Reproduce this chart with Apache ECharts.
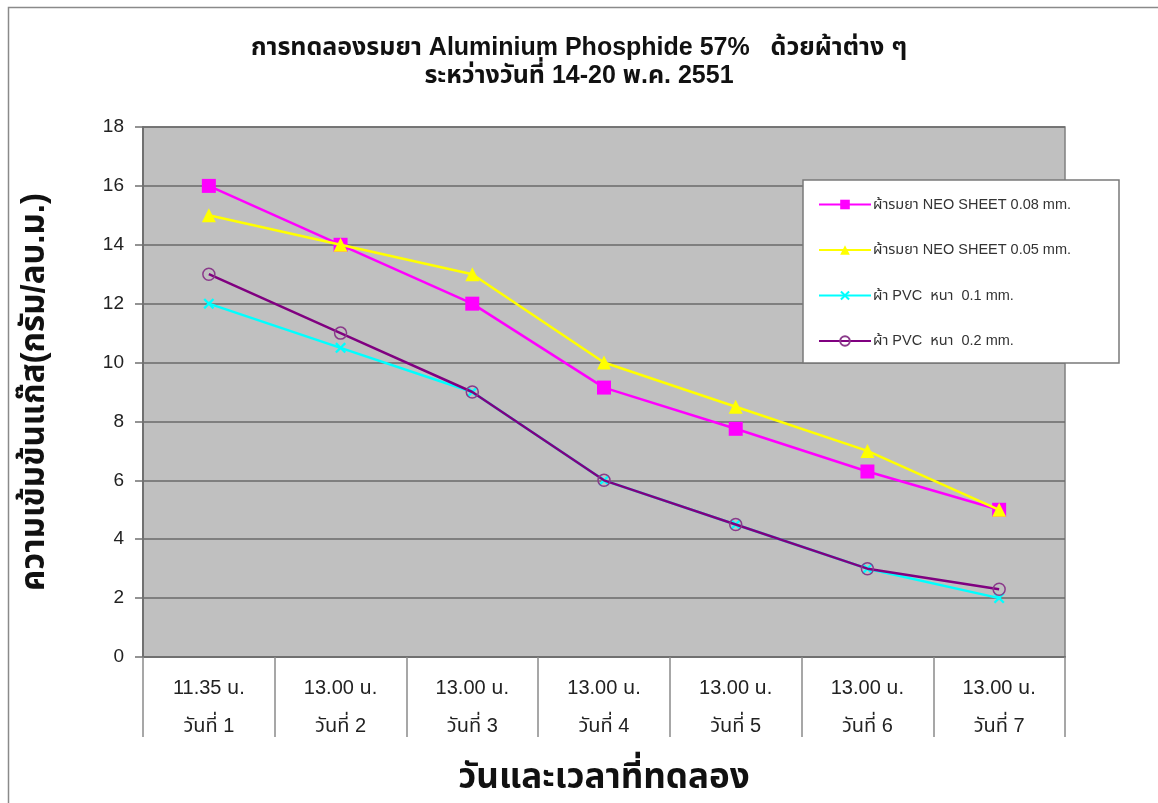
<!DOCTYPE html>
<html>
<head>
<meta charset="utf-8">
<script src="https://cdn.jsdelivr.net/npm/echarts@6/dist/echarts.min.js"></script>
<style>
html,body{margin:0;padding:0;background:#fff;}
#main{width:1158px;height:803px;}
</style>
</head>
<body>
<div id="main"></div>
<script>
var titleLines = ['การทดลองรมยา Aluminium Phosphide 57%   ด้วยผ้าต่าง ๆ', 'ระหว่างวันที่ 14-20 พ.ค. 2551'];
var timeLabels = ['11.35 น.', '13.00 น.', '13.00 น.', '13.00 น.', '13.00 น.', '13.00 น.', '13.00 น.'];
var dayLabels = ['วันที่ 1', 'วันที่ 2', 'วันที่ 3', 'วันที่ 4', 'วันที่ 5', 'วันที่ 6', 'วันที่ 7'];
var seriesNames = ['ผ้ารมยา NEO SHEET 0.08 mm.', 'ผ้ารมยา NEO SHEET 0.05 mm.', 'ผ้า PVC  หนา  0.1 mm.', 'ผ้า PVC  หนา  0.2 mm.'];
var neo008 = [16, 14, 12, 9.15, 7.75, 6.3, 5];
var neo005 = [15, 14, 13, 10, 8.5, 7, 5];
var pvc01 = [12, 10.5, 9, 6, 4.5, 3, 2];
var pvc02 = [13, 11, 9, 6, 4.5, 3, 2.3];
var yTicks = {min: 0, max: 18, interval: 2};
var yAxisName = 'ความเข้มข้นแก๊ส(กรัม/ลบ.ม.)';
var xAxisName = 'วันและเวลาที่ทดลอง';

var categories = timeLabels.map(function (t, i) { return t + '\n' + dayLabels[i]; });
var FONT = '"Liberation Sans", Arial, "Noto Sans", "Noto Sans Thai", sans-serif';
var xSymbol = 'path://M0,1.5L1.5,0L5,3.5L8.5,0L10,1.5L6.5,5L10,8.5L8.5,10L5,6.5L1.5,10L0,8.5L3.5,5Z';

var chart = echarts.init(document.getElementById('main'), null, {renderer: 'canvas'});
var option = {
  backgroundColor: '#ffffff',
  animation: false,
  textStyle: {fontFamily: FONT},
  graphic: [{
    type: 'rect', z: -10,
    shape: {x: 8.5, y: 7.5, width: 1300, height: 1000},
    style: {fill: '#ffffff', stroke: '#8a8a8a', lineWidth: 1.5}
  }, {
    type: 'rect', z: 90,
    shape: {x: 803, y: 180, width: 316, height: 183},
    style: {fill: '#ffffff', stroke: '#7a7a7a', lineWidth: 1.5}
  }],
  title: {
    text: titleLines.join('\n'),
    left: 'center',
    top: 29,
    textStyle: {fontFamily: FONT, fontSize: 25, fontWeight: 'bold', color: '#111', lineHeight: 28}
  },
  grid: {
    left: 143, right: 93, top: 127, bottom: 146,
    outerBoundsMode: 'none',
    show: true, backgroundColor: '#c0c0c0', borderColor: '#808080', borderWidth: 1.5,
    containLabel: false
  },
  legend: {
    orient: 'vertical',
    left: 806, top: 183,
    padding: [14, 10, 14, 12],
    z: 100,
    itemWidth: 52,
    itemHeight: 12,
    itemGap: 30.5,
    textStyle: {fontFamily: FONT, fontSize: 14.5, color: '#333', padding: [0, 0, 0, -3]},
    data: seriesNames
  },
  xAxis: {
    type: 'category',
    data: categories,
    boundaryGap: true,
    name: xAxisName,
    nameLocation: 'middle',
    nameGap: 104,
    nameTextStyle: {fontFamily: FONT, fontSize: 35, fontWeight: 'bold', color: '#111'},
    axisLine: {lineStyle: {color: '#707070', width: 2}},
    axisTick: {show: true, length: 80, alignWithLabel: false, lineStyle: {color: '#8a8a8a', width: 1.5}},
    axisLabel: {fontFamily: FONT, fontSize: 20, color: '#222', lineHeight: 38, margin: 12, interval: 0},
    splitLine: {show: false}
  },
  yAxis: {
    type: 'value',
    min: yTicks.min, max: yTicks.max, interval: yTicks.interval,
    name: yAxisName,
    nameLocation: 'middle',
    nameGap: 92,
    nameRotate: 90,
    nameTextStyle: {fontFamily: FONT, fontSize: 33, fontWeight: 'bold', color: '#111'},
    axisLine: {show: true, lineStyle: {color: '#707070', width: 2}},
    axisTick: {show: true, length: 8, lineStyle: {color: '#707070', width: 1.5}},
    axisLabel: {fontFamily: FONT, fontSize: 19, color: '#222', margin: 19},
    splitLine: {show: true, lineStyle: {color: '#6a6a6a', width: 1.5}}
  },
  series: [
    {
      name: seriesNames[0], type: 'line', data: neo008,
      symbol: 'rect', symbolSize: 14,
      lineStyle: {color: '#ff00ff', width: 2.5},
      itemStyle: {color: '#ff00ff'}, z: 2
    },
    {
      name: seriesNames[1], type: 'line', data: neo005,
      symbol: 'triangle', symbolSize: 14,
      lineStyle: {color: '#ffff00', width: 2.5},
      itemStyle: {color: '#ffff00'}, z: 3
    },
    {
      name: seriesNames[2], type: 'line', data: pvc01,
      symbol: xSymbol, symbolSize: 11,
      lineStyle: {color: '#00ffff', width: 2.5},
      itemStyle: {color: '#00ffff'}, z: 4
    },
    {
      name: seriesNames[3], type: 'line', data: pvc02,
      symbol: 'circle', symbolSize: 12,
      lineStyle: {color: '#800080', width: 2.5},
      itemStyle: {color: 'rgba(0,0,0,0)', borderColor: '#8a3a8a', borderWidth: 1.5}, z: 5
    }
  ]
};
chart.setOption(option);
</script>
</body>
</html>
